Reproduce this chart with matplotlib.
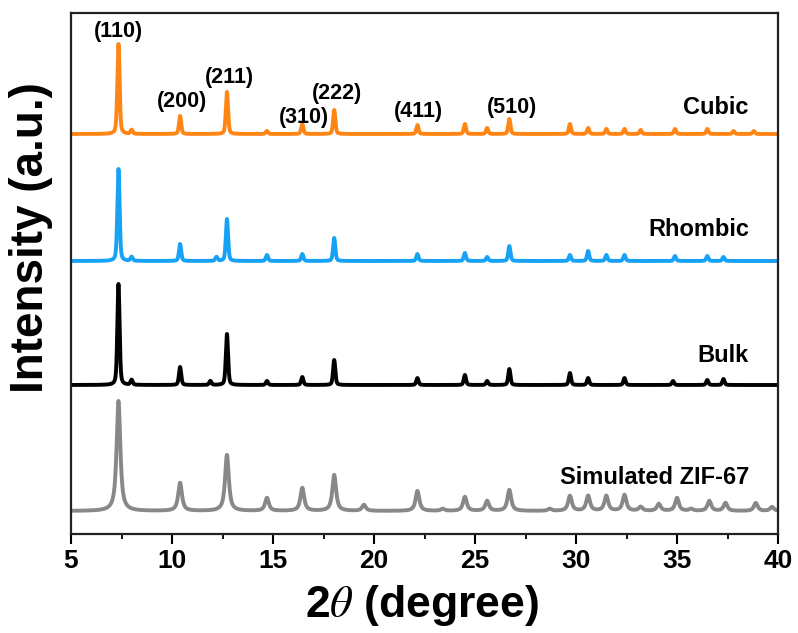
import numpy as np
import matplotlib
matplotlib.use("Agg")
import matplotlib.pyplot as plt

# ---------------- data ----------------
x_min, x_max = 5, 40
x_ticks = [5, 10, 15, 20, 25, 30, 35, 40]

sample_names = ["Simulated ZIF-67", "Bulk", "Rhombic", "Cubic"]
baselines = [36, 162, 286, 413]

sim_pos = [7.35, 10.4, 12.72, 14.7, 16.45, 18.03, 19.5, 22.15, 23.4, 24.5, 25.6,
           26.7, 28.7, 29.7, 30.6, 31.5, 32.4, 33.2, 34.1, 35.0, 35.7, 36.6, 37.4, 38.9, 39.7]
sim_h = [110, 28, 56, 13, 23, 36, 6, 20, 2, 14, 10, 21, 2, 15, 15, 15, 16, 4, 7, 13, 2, 10, 8, 8, 4]

bulk_pos = [7.35, 8.0, 10.4, 11.9, 12.72, 14.7, 16.45, 18.03, 22.15, 24.5, 25.6,
            26.7, 29.7, 30.6, 32.4, 34.8, 36.5, 37.3]
bulk_h = [101, 5, 18, 4, 51, 4, 8, 25, 7, 10, 4, 16, 12, 7, 7, 4, 5, 6]

rhom_pos = [7.35, 8.0, 10.4, 12.2, 12.72, 14.7, 16.45, 18.03, 22.15, 24.5, 25.6,
            26.7, 29.7, 30.6, 31.5, 32.4, 34.9, 36.5, 37.3]
rhom_h = [92, 4, 17, 4, 42, 6, 7, 23, 7, 8, 4, 15, 6, 10, 6, 6, 5, 5, 4]

cub_pos = [7.35, 8.0, 10.4, 12.72, 14.7, 16.45, 18.03, 22.15, 24.5, 25.6, 26.7,
           29.7, 30.6, 31.5, 32.4, 33.2, 34.9, 36.5, 37.8, 38.8]
cub_h = [90, 4, 18, 42, 3, 10, 24, 9, 10, 6, 15, 10, 6, 5, 5, 4, 5, 5, 3, 3]

hkl_labels = ["(110)", "(200)", "(211)", "(310)", "(222)", "(411)", "(510)"]
hkl_x = [7.33, 10.5, 12.82, 16.53, 18.17, 22.18, 26.83]
hkl_y = [515, 445, 470, 430, 454, 435, 439]

colors = ["#888888", "#000000", "#17A2F5", "#FF8514"]

# ---------------- rendering ----------------
x = np.linspace(x_min, x_max, 7001)


def profile(pos, h, fwhm, eta):
    y = np.zeros_like(x)
    for p, a in zip(pos, h):
        g = np.exp(-4 * np.log(2) * ((x - p) / fwhm) ** 2)
        l = 1.0 / (1.0 + 4 * ((x - p) / fwhm) ** 2)
        y += a * (eta * l + (1 - eta) * g)
    return y


plt.rcParams["font.family"] = ["Liberation Sans", "DejaVu Sans"]
plt.rcParams["mathtext.fontset"] = "stix"

W, H = 798, 633
fig = plt.figure(figsize=(W / 100, H / 100), dpi=100)
ax_left, ax_right, ax_top, ax_bottom = 71, 778, 13, 534
ax = fig.add_axes([ax_left / W, (H - ax_bottom) / H,
                   (ax_right - ax_left) / W, (ax_bottom - ax_top) / H])

curves = [
    profile(sim_pos, sim_h, 0.22, 0.85),
    profile(bulk_pos, bulk_h, 0.13, 0.4),
    profile(rhom_pos, rhom_h, 0.13, 0.4),
    profile(cub_pos, cub_h, 0.13, 0.4),
]

for base, c, col in zip(baselines, curves, colors):
    ax.plot(x, base + c, color=col, lw=2.8, solid_joinstyle="round")

label_y = [70, 192, 317, 439]
for name, ly in zip(sample_names, label_y):
    ax.text(38.56, ly, name, ha="right", va="center", fontsize=17,
            fontweight="bold", color="black")

for t, hx, hy in zip(hkl_labels, hkl_x, hkl_y):
    ax.text(hx, hy, t, ha="center", va="center", fontsize=15.5,
            fontweight="bold", color="black")

ax.set_xlim(x_min, x_max)
ax.set_ylim(547 - ax_bottom, 547 - ax_top)
ax.set_yticks([])
ax.set_xticks(x_ticks)
ax.set_xticks(np.arange(7.5, 40, 5), minor=True)
ax.tick_params(axis="x", which="major", direction="out", length=7, width=1.5,
               labelsize=19, pad=4)
ax.tick_params(axis="x", which="minor", direction="out", length=3.8, width=1.3)
for lab in ax.get_xticklabels():
    lab.set_fontweight("bold")
for s in ax.spines.values():
    s.set_linewidth(1.6)
    s.set_color("#222222")

fig.text(422 / W, (H - 606) / H, "2$\\theta$ (degree)", fontsize=32,
         fontweight="bold", ha="center", va="center")
fig.text(31 / W, (H - 238) / H, "Intensity (a.u.)", fontsize=33,
         fontweight="bold", ha="center", va="center", rotation=90)

fig.savefig("out.png", dpi=100)
